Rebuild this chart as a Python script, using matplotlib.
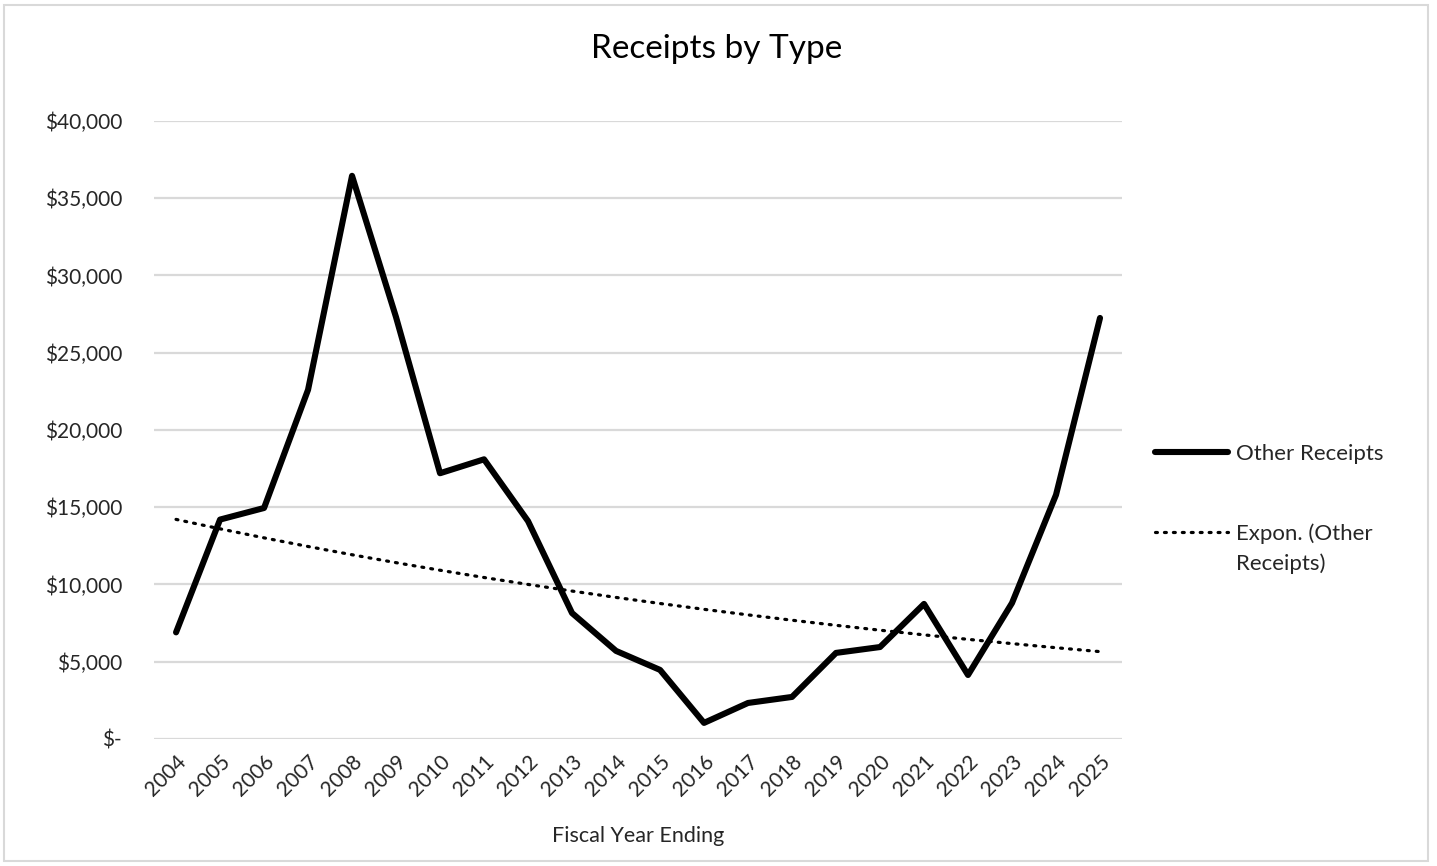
import matplotlib.pyplot as plt
import matplotlib.ticker as mticker
from matplotlib.patches import Rectangle
from matplotlib.legend_handler import HandlerLine2D
import numpy as np

plt.rcParams['font.family'] = ['Lato', 'DejaVu Sans']

# dati: ricevute per anno fiscale
anni = [str(a) for a in range(2004, 2026)]
altre_ricevute = [6900, 14200, 14950, 22600, 36450, 27300, 17200, 18100, 14100, 8150,
                  5700, 4470, 1040, 2330, 2720, 5570, 5950, 8740, 4140, 8800, 15800, 27250]

x = np.arange(len(anni))
y = np.array(altre_ricevute, dtype=float)

# trendline esponenziale (fit lineare sul logaritmo)
b, a = np.polyfit(x + 1, np.log(y), 1)
trend = np.exp(a) * np.exp(b * (x + 1))


# simbolo in legenda allineato alla prima riga di un'etichetta su due righe
class HandlerPrimaRiga(HandlerLine2D):
    def create_artists(self, legend, orig_handle, xdescent, ydescent, width, height,
                       fontsize, trans):
        artisti = super().create_artists(legend, orig_handle, xdescent, ydescent, width,
                                         height, fontsize, trans)
        for art in artisti:
            art.set_ydata(np.asarray(art.get_ydata()) + 0.75 * fontsize)
        return artisti


fig = plt.figure(figsize=(14.37, 8.66), dpi=100)
ax = fig.add_axes([0.1072, 0.1467, 0.6736, 0.7136])

linea, = ax.plot(x, y, color='black', lw=4.4, solid_joinstyle='round',
                 solid_capstyle='round', label='Other Receipts', zorder=3)
tend, = ax.plot(x, trend, color='black', lw=2.3, linestyle=(0, (0.6, 2.2)),
                dash_capstyle='round', label='Expon. (Other\nReceipts)', zorder=2)

ax.set_xlim(-0.5, len(anni) - 0.5)
ax.set_ylim(0, 40000)
ax.set_yticks(np.arange(0, 40001, 5000))
ax.yaxis.set_major_formatter(mticker.FuncFormatter(lambda v, p: '$-' if v == 0 else f'${v:,.0f}'))
ax.set_xticks(x)
ax.set_xticklabels(anni, rotation=45, ha='right', va='top', rotation_mode='anchor')

ax.grid(axis='y', color='#d9d9d9', lw=1.6)
ax.set_axisbelow(True)
for s in ax.spines.values():
    s.set_visible(False)
ax.tick_params(axis='both', length=0, labelsize=15, colors='#262626')
ax.tick_params(axis='y', pad=23)
ax.tick_params(axis='x', pad=9)

ax.set_xlabel('Fiscal Year Ending', fontsize=15.5, color='#262626', labelpad=18.5)
fig.suptitle('Receipts by Type', fontsize=24, color='black', x=0.499, y=0.943, va='center')

leg = ax.legend(handles=[linea, tend], loc='center left', bbox_to_anchor=(1.0134, 0.372),
                frameon=False, fontsize=16, handlelength=3.3, handletextpad=0.35,
                labelspacing=2.68, labelcolor='#262626',
                handler_map={tend: HandlerPrimaRiga()})
for t in leg.get_texts():
    t.set_linespacing(1.6)

# bordo grigio del grafico
fig.patches.append(Rectangle((0.003, 0.006), 0.991, 0.988, transform=fig.transFigure,
                             fill=False, edgecolor='#d9d9d9', lw=1.5))

fig.savefig('out.png', dpi=100)
